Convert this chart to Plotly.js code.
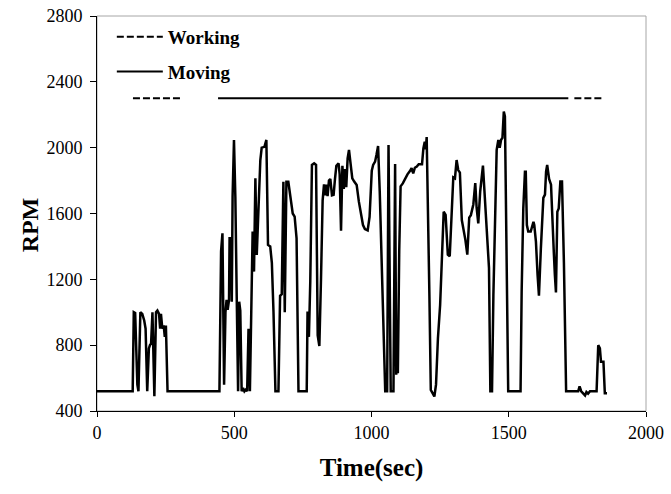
<!DOCTYPE html>
<html>
<head>
<meta charset="utf-8">
<script src="https://cdn.plot.ly/plotly-3.0.1.min.js"></script>
<style>
  html, body { margin: 0; padding: 0; background: #fff; }
  #chart { width: 671px; height: 494px; }
</style>
</head>
<body>
<div id="chart"></div>
<script>
// Engine speed log (time in seconds, RPM)
const timeSec = [
  0, 130, 134, 139, 147, 151, 158, 165, 172, 177, 183, 189, 193, 197, 202, 209, 215, 220, 226, 230,
  233, 238, 243, 247, 251, 257, 446, 452, 457, 463, 468, 472, 476, 481, 483, 488, 491, 494, 499, 504,
  509, 514, 518, 522, 527, 532, 537, 542, 547, 552, 557, 562, 567, 572, 577, 582, 586, 590, 595, 600,
  610, 617, 623, 631, 637, 643, 650, 661, 667, 673, 679, 684, 690, 697, 705, 713, 720, 727, 734, 764,
  767, 772, 777, 783, 791, 798, 804, 810, 816, 822, 827, 832, 836, 840, 845, 850, 856, 862, 867, 872,
  880, 884, 889, 894, 899, 904, 908, 913, 918, 923, 930, 937, 946, 954, 962, 969, 976, 986, 993, 1001,
  1006, 1013, 1018, 1024, 1030, 1037, 1044, 1050, 1057, 1062, 1070, 1080, 1086, 1090, 1093, 1096, 1101, 1106, 1114, 1122,
  1131, 1140, 1146, 1152, 1158, 1165, 1172, 1184, 1189, 1194, 1198, 1201, 1205, 1211, 1216, 1223, 1229, 1235, 1242, 1250,
  1256, 1263, 1270, 1278, 1285, 1292, 1298, 1304, 1310, 1316, 1322, 1329, 1335, 1342, 1349, 1356, 1362, 1371, 1378, 1383,
  1389, 1396, 1406, 1413, 1420, 1423, 1428, 1433, 1439, 1444, 1450, 1456, 1462, 1467, 1472, 1477, 1482, 1486, 1498, 1543,
  1547, 1553, 1559, 1562, 1566, 1571, 1580, 1587, 1590, 1593, 1599, 1605, 1610, 1617, 1626, 1632, 1636, 1640, 1647, 1654,
  1659, 1664, 1668, 1672, 1677, 1682, 1688, 1694, 1701, 1709, 1753, 1758, 1764, 1772, 1778, 1783, 1789, 1796, 1820, 1826,
  1832, 1836, 1845, 1850, 1858
];
const rpm = [
  520, 520, 1000, 995, 560, 520, 1000, 990, 950, 900, 520, 780, 800, 810, 1000, 490, 1000, 1010, 990, 900,
  990, 900, 920, 850, 920, 520, 520, 1370, 1480, 560, 1000, 1075, 1014, 1075, 1449, 1449, 1064, 1702, 2047, 1702,
  1095, 520, 1064, 1010, 520, 540, 520, 530, 520, 900, 520, 1186, 1490, 1247, 1814, 1348, 1540, 1783, 1925, 2000,
  2005, 2047, 1409, 1400, 1300, 1000, 520, 520, 1100, 1110, 1793, 1000, 1793, 1793, 1710, 1600, 1581, 1450, 520, 520,
  1004, 850, 1190, 1895, 1905, 1895, 860, 795, 1200, 1680, 1777, 1710, 1775, 1705, 1800, 1810, 1710, 1713, 1810, 1890,
  1905, 1840, 1495, 1890, 1750, 1870, 1760, 1935, 1986, 1915, 1814, 1794, 1773, 1672, 1591, 1530, 1505, 1497, 1580, 1860,
  1895, 1915, 1955, 2010, 1733, 1290, 821, 520, 520, 2016, 520, 520, 1900, 620, 700, 630, 1370, 1765, 1783, 1814,
  1838, 1858, 1875, 1844, 1878, 1885, 1899, 1899, 1996, 2036, 1990, 2065, 1733, 1095, 528, 508, 488, 560, 842, 1044,
  1330, 1611, 1591, 1350, 1340, 1630, 1820, 1814, 1925, 1864, 1848, 1560, 1505, 1440, 1350, 1575, 1590, 1655, 1785, 1635,
  1540, 1735, 1891, 1690, 1470, 1440, 1270, 520, 520, 1100, 1560, 1986, 2047, 2000, 2047, 2060, 2220, 2190, 520, 520,
  1125, 1631, 1854, 1854, 1530, 1490, 1490, 1530, 1550, 1530, 1429, 1227, 1100, 1388, 1695, 1715, 1854, 1895, 1810, 1775,
  1530, 1370, 1227, 1120, 1611, 1630, 1795, 1795, 1300, 520, 520, 550, 520, 505, 495, 515, 505, 520, 520, 800,
  780, 700, 700, 508, 508
];

// Activity phases drawn as bars across the top at a fixed level
const phaseLevel = 2300;
const workingT = [131, 310, 311, 1739, 1845];
const workingY = [phaseLevel, phaseLevel, null, phaseLevel, phaseLevel];
const movingT = [441, 1717];
const movingY = [phaseLevel, phaseLevel];

const xTicks = [0, 500, 1000, 1500, 2000];
const yTicks = [400, 800, 1200, 1600, 2000, 2400, 2800];

const serif = '"Liberation Serif", "Times New Roman", serif';

const traces = [
  {
    x: workingT, y: workingY, type: 'scatter', mode: 'lines', name: 'Working',
    legendgroup: 'w', connectgaps: false,
    line: { color: '#000', width: 2, dash: '7px,3px' }
  },
  {
    x: movingT, y: movingY, type: 'scatter', mode: 'lines', name: 'Moving',
    legendgroup: 'm',
    line: { color: '#000', width: 2 }
  },
  {
    x: timeSec, y: rpm, type: 'scatter', mode: 'lines', name: 'RPM',
    showlegend: false,
    line: { color: '#000', width: 2.5 }
  }
];

const layout = {
  width: 671, height: 494,
  margin: { l: 97, r: 25, t: 16, b: 83 },
  paper_bgcolor: '#fff', plot_bgcolor: '#fff',
  font: { family: serif, color: '#000' },
  showlegend: true,
  legend: {
    x: 0.027, y: 0.995, xanchor: 'left', yanchor: 'top',
    bgcolor: 'rgba(0,0,0,0)', borderwidth: 0,
    font: { family: serif, size: 19, color: '#000', weight: 'bold' },
    traceorder: 'grouped', tracegroupgap: 7,
    itemwidth: 46
  },
  xaxis: {
    range: [0, 2000], tickvals: xTicks, ticktext: xTicks.map(String),
    showgrid: false, zeroline: false,
    showline: true, linecolor: '#000', linewidth: 1,
    ticks: 'outside', ticklen: 5, tickcolor: '#000',
    tickfont: { family: serif, size: 18, color: '#000' },
    title: { text: '<b>Time(sec)</b>', font: { family: serif, size: 25, color: '#000' }, standoff: 16 }
  },
  yaxis: {
    range: [400, 2800], tickvals: yTicks, ticktext: yTicks.map(String),
    showgrid: false, zeroline: false,
    showline: true, linecolor: '#000', linewidth: 1,
    ticks: 'outside', ticklen: 6, tickcolor: '#000',
    ticklabelstandoff: 4,
    tickfont: { family: serif, size: 18, color: '#000' }
  },
  annotations: [
    {
      text: '<b>RPM</b>', xref: 'paper', yref: 'paper',
      x: -0.122, y: 0.47, xanchor: 'center', yanchor: 'middle',
      textangle: -90, showarrow: false,
      font: { family: serif, size: 24, color: '#000' }
    }
  ],
  shapes: [
    {
      type: 'rect', xref: 'paper', yref: 'paper', x0: 0, x1: 1, y0: 0, y1: 1,
      line: { color: '#a6a6a6', width: 1 }, layer: 'below'
    }
  ]
};

Plotly.newPlot('chart', traces, layout, { displayModeBar: false, staticPlot: true });
</script>
</body>
</html>
